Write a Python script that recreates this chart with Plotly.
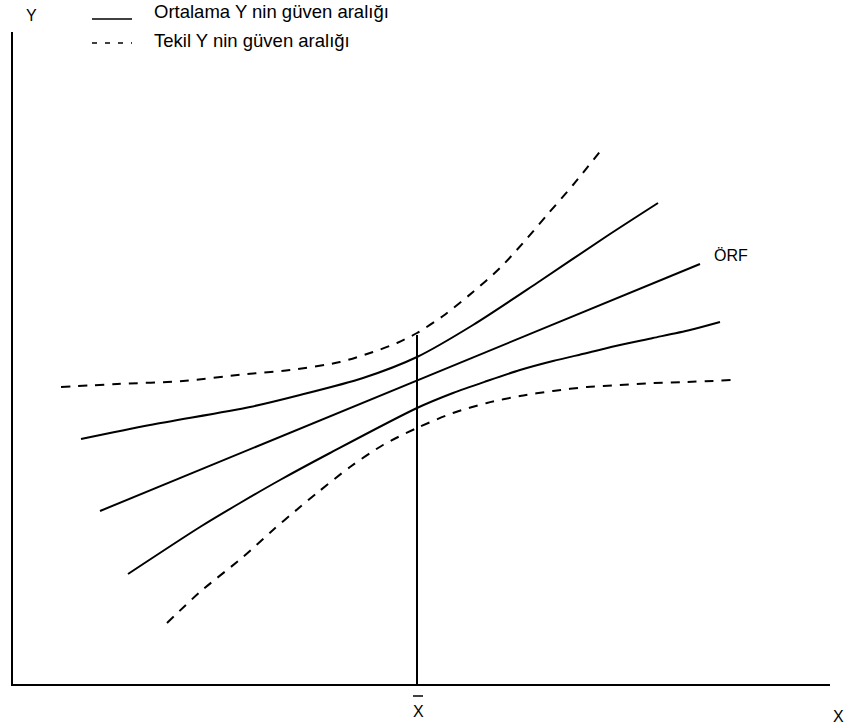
import plotly.graph_objects as go

# Schematic coordinates (origin at the axes corner)
X_MAX, Y_MAX = 817, 652
X_BAR = 404
X_BAR_TOP = 349

# Sample regression function (ÖRF)
orf_x = [87, 404, 687]
orf_y = [173, 303.5, 420]

# Confidence band for the mean of Y (solid)
mean_up_x = [68, 137, 237, 287, 350, 404, 460, 527, 594, 645]
mean_up_y = [245, 259, 277, 289, 306, 327, 359, 403, 448, 481]
mean_lo_x = [115, 187, 227, 267, 317, 404, 440, 474, 507, 540, 574, 607, 640, 677, 707]
mean_lo_y = [110, 157, 181, 204, 231, 276, 291, 303, 314, 323, 331, 339, 346, 354, 362]

# Confidence band for an individual Y (dashed)
ind_up_x = [48, 104, 170, 234, 277, 327, 360, 384, 404, 430, 460, 487, 510, 534, 560, 589]
ind_up_y = [297, 300, 303, 310, 314, 322, 332, 341, 351, 368, 392, 416, 441, 469, 499, 535]
ind_lo_x = [154, 187, 230, 260, 287, 304, 337, 370, 404, 440, 474, 507, 540, 574, 607, 640, 674, 720]
ind_lo_y = [61, 92, 127, 154, 177, 191, 217, 239, 256, 271, 281, 288, 293, 297, 299, 301, 302, 304]

legend_labels = ["Ortalama Y nin güven aralığı", "Tekil Y nin güven aralığı"]

FONT = "Arial, Liberation Sans, sans-serif"
DASH = "9px,8px"

fig = go.Figure()

def add_curve(x, y, dash=None, shape="spline"):
    fig.add_trace(go.Scatter(
        x=x, y=y, mode="lines", showlegend=False, hoverinfo="skip",
        line=dict(color="black", width=2, dash=dash, shape=shape,
                  smoothing=0.8 if shape == "spline" else None),
        cliponaxis=False,
    ))

add_curve(ind_up_x, ind_up_y, dash=DASH)
add_curve(ind_lo_x, ind_lo_y, dash=DASH)
add_curve(mean_up_x, mean_up_y)
add_curve(mean_lo_x, mean_lo_y)
add_curve(orf_x, orf_y, shape="linear")
add_curve([X_BAR, X_BAR], [0, X_BAR_TOP], shape="linear")


def px_to_paper(px, py):
    return (px - 13) / X_MAX, (684 - py) / Y_MAX


def label(px, py, text, size=16, anchor="center"):
    x, y = px_to_paper(px, py)
    fig.add_annotation(xref="paper", yref="paper", x=x, y=y, text=text, showarrow=False,
                       xanchor=anchor, yanchor="middle",
                       font=dict(size=size, family=FONT, color="black"))


def hline(px0, px1, py, width=1.5, dash=None):
    x0, y0 = px_to_paper(px0, py)
    x1, _ = px_to_paper(px1, py)
    fig.add_shape(type="line", xref="paper", yref="paper", x0=x0, x1=x1, y0=y0, y1=y0,
                  line=dict(color="black", width=width, dash=dash))


# Curve and axis labels
label(712, 255, "ÖRF", anchor="left")
label(31, 16, "Y")
label(838, 716, "X")
label(418, 711, "X")
hline(413, 423, 696, width=1.5)  # bar over the mean of X

# Hand-built legend above the plot
for i, (text, dash) in enumerate(zip(legend_labels, [None, "5px,8px"])):
    line_y = [19, 43][i]
    text_y = [12, 40][i]
    hline(92, 132, line_y, dash=dash)
    label(152, text_y, text, size=18.5, anchor="left")

axis_common = dict(showgrid=False, zeroline=False, showticklabels=False, ticks="",
                   showline=True, linecolor="black", linewidth=2, fixedrange=True)
fig.update_xaxes(range=[0, X_MAX], **axis_common)
fig.update_yaxes(range=[0, Y_MAX], **axis_common)

fig.update_layout(
    width=845, height=726,
    margin=dict(l=13, r=15, t=32, b=42),
    paper_bgcolor="white", plot_bgcolor="white",
    showlegend=False,
)

fig.write_html("out.html")
